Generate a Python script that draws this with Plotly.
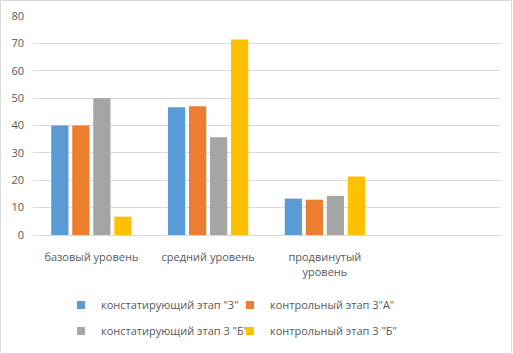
import plotly.graph_objects as go

categories = ["базовый уровень", "средний уровень", "продвинутый<br>уровень", " "]
series_names = ['констатирующий этап "3"', 'контрольный этап 3"А"',
                'констатирующий этап 3 "Б"', 'контрольный этап 3 "Б"']
s1 = [40, 46.7, 13.3, None]
s2 = [40, 47.0, 12.9, None]
s3 = [50, 35.7, 14.3, None]
s4 = [6.7, 71.4, 21.4, None]
colors = ["#5b9bd5", "#ed7d31", "#a5a5a5", "#ffc000"]
y_ticks = [0, 10, 20, 30, 40, 50, 60, 70, 80]

W, H = 513, 354
L, R, T, B = 33, 13, 16, 119
pw, ph = W - L - R, H - T - B

fig = go.Figure()
legends = ["legend", "legend", "legend2", "legend2"]
for i, (name, vals, c, lg) in enumerate(zip(series_names, [s1, s2, s3, s4], colors, legends)):
    fig.add_trace(go.Bar(x=categories, y=vals, name=name, marker_color=c,
                         marker_line_width=0, showlegend=False, legendgroup=f"g{i}"))
    # legend proxy with small square symbol
    fig.add_trace(go.Scatter(x=[None], y=[None], mode="markers", name=name,
                             marker=dict(symbol="square", size=8, color=c),
                             legend=lg, legendgroup=f"g{i}", hoverinfo="skip"))

fam = "Open Sans, Liberation Sans, sans-serif"
lfont = dict(family=fam, size=11, color="#595959")
leg_common = dict(orientation="h", xanchor="left", yanchor="middle",
                  entrywidth=124, entrywidthmode="pixels", itemwidth=30,
                  font=lfont, bgcolor="rgba(0,0,0,0)", borderwidth=0)
fig.update_layout(
    width=W, height=H,
    margin=dict(l=L, r=R, t=T, b=B, autoexpand=False),
    paper_bgcolor="white", plot_bgcolor="white",
    font=lfont,
    barmode="group", bargap=0.28, bargroupgap=0.18,
    showlegend=True,
    legend=dict(x=(81 - 20 - L) / pw, y=(T + ph - 305) / ph, **leg_common),
    legend2=dict(x=(81 - 20 - L) / pw, y=(T + ph - 331) / ph, **leg_common),
    xaxis=dict(showgrid=False, showline=True, linecolor="#d9d9d9", linewidth=1,
               ticks="", ticklabelstandoff=12,
               tickfont=dict(family=fam, size=11, color="#595959")),
    yaxis=dict(range=[0, 80], tickvals=y_ticks, showgrid=True, gridcolor="#d9d9d9",
               gridwidth=1, zeroline=False, showline=False, ticks="",
               ticklabelstandoff=8,
               tickfont=dict(family=fam, size=11, color="#595959")),
    shapes=[dict(type="rect", xref="paper", yref="paper",
                 x0=(0.5 - L) / pw, x1=(W - 1.5 - L) / pw,
                 y0=-(B - 0.5) / ph, y1=1 + (T - 0.5) / ph,
                 line=dict(color="#d9d9d9", width=1), layer="below")],
)
fig.write_html("out.html")
